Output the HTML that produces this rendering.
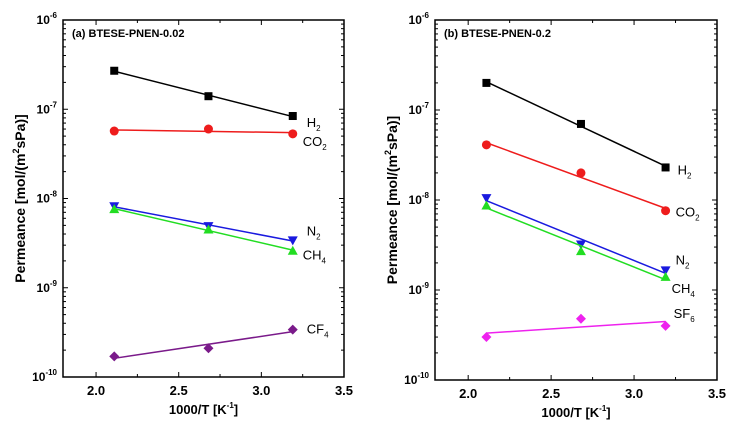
<!DOCTYPE html>
<html><head><meta charset="utf-8"><style>
body{margin:0;background:#fff;}
svg{display:block;font-family:"Liberation Sans",Arial,sans-serif;}
</style></head><body>
<svg id="chart" width="740" height="428" viewBox="0 0 740 428"></svg>
<script>
const xValues = [2.11, 2.68, 3.19];
const gasesA = ["H2","CO2","N2","CH4","CF4"];
const h2A = [2.7e-7, 1.4e-7, 8.4e-8];
const co2A = [5.7e-8, 6.0e-8, 5.3e-8];
const n2A = [8.2e-9, 4.9e-9, 3.4e-9];
const ch4A = [7.6e-9, 4.5e-9, 2.6e-9];
const cf4A = [1.7e-10, 2.1e-10, 3.4e-10];
const gasesB = ["H2","CO2","N2","CH4","SF6"];
const h2B = [2.0e-7, 7.0e-8, 2.3e-8];
const co2B = [4.1e-8, 2.0e-8, 7.6e-9];
const n2B = [1.05e-8, 3.2e-9, 1.65e-9];
const ch4B = [8.7e-9, 2.7e-9, 1.4e-9];
const sf6B = [3.0e-10, 4.8e-10, 4.0e-10];
const xTicks = [2.0, 2.5, 3.0, 3.5];
const xTickLabels = ["2.0","2.5","3.0","3.5"];
const yExps = [-10,-9,-8,-7,-6];

const NS="http://www.w3.org/2000/svg";
const svg=document.getElementById('chart');
function mk(tag,attrs,parent){const e=document.createElementNS(NS,tag);for(const k in attrs)e.setAttribute(k,attrs[k]);(parent||svg).appendChild(e);return e;}

function marker(g,type,cx,cy,color){
  let e;
  if(type==='square'){e=mk('rect',{x:cx-4,y:cy-4,width:8,height:8,fill:color},g);}
  else if(type==='circle'){e=mk('circle',{cx:cx,cy:cy,r:4.5,fill:color},g);}
  else if(type==='down'){e=mk('polygon',{points:`${cx-5},${cy-4} ${cx+5},${cy-4} ${cx},${cy+5}`,fill:color},g);}
  else if(type==='up'){e=mk('polygon',{points:`${cx-5},${cy+4} ${cx+5},${cy+4} ${cx},${cy-5}`,fill:color},g);}
  else {e=mk('polygon',{points:`${cx},${cy-5} ${cx+5},${cy} ${cx},${cy+5} ${cx-5},${cy}`,fill:color},g);}
  return e;
}

function panel(id,L,R,T,B,title,series){
  const g=mk('g',{});
  
  
  const xs=v=>L+(v-1.8)/(3.5-1.8)*(R-L);
  const ys=v=>B-(Math.log10(v)+10)/4*(B-T);
  xTicks.forEach((t,i)=>{
    const x=xs(t);
    if(t<3.5){mk('line',{x1:x,y1:B,x2:x,y2:B-5,stroke:'#000','stroke-width':1},g);mk('line',{x1:x,y1:T,x2:x,y2:T+5,stroke:'#000','stroke-width':1},g);}
    const lbl=mk('text',{x:x,y:B+18,'text-anchor':'middle','font-size':13,'font-weight':'bold'},g);
    lbl.textContent=xTickLabels[i];
    
    
    if(t<3.5){const m=xs(t+0.25);mk('line',{x1:m,y1:B,x2:m,y2:B-3,stroke:'#000'},g);mk('line',{x1:m,y1:T,x2:m,y2:T+3,stroke:'#000'},g);}
  });
  yExps.forEach(e=>{
    const y=ys(Math.pow(10,e));
    mk('line',{x1:L,y1:y,x2:L+5,y2:y,stroke:'#000'},g);mk('line',{x1:R,y1:y,x2:R-5,y2:y,stroke:'#000'},g);
    const t=mk('text',{x:L-6,y:y+4,'text-anchor':'end','font-size':12,'font-weight':'bold'},g);
    
    
    t.innerHTML='10<tspan dy="-6" font-size="8">'+e+'</tspan>';
    if(e<-6)for(let k=2;k<10;k++){const yy=ys(k*Math.pow(10,e));mk('line',{x1:L,y1:yy,x2:L+3,y2:yy,stroke:'#000'},g);mk('line',{x1:R,y1:yy,x2:R-3,y2:yy,stroke:'#000'},g);}
  });
  const fr=mk('rect',{x:L,y:T,width:R-L,height:B-T,fill:'none',stroke:'#000','stroke-width':1.5},g);
  
  
  const tt=mk('text',{x:L+9,y:T+17,'font-size':11,'font-weight':'bold'},g);
  tt.textContent=title;
  
  
  const yl=mk('text',{x:0,y:0,transform:`translate(${L-38},${(T+B)/2}) rotate(-90)`,'text-anchor':'middle','font-size':14,'font-weight':'bold'},g);
  yl.innerHTML='Permeance [mol/(m<tspan dy="-6" font-size="9">2</tspan><tspan dy="6">sPa)]</tspan>';
  
  
  const xl=mk('text',{x:(L+R)/2,y:B+37,'text-anchor':'middle','font-size':13,'font-weight':'bold'},g);
  xl.innerHTML='1000/T  [K<tspan dy="-6" font-size="8">-1</tspan><tspan dy="6">]</tspan>';
  
  
  series.forEach(s=>{
    const n=xValues.length;let sx=0,sy=0,sxx=0,sxy=0;
    xValues.forEach((x,i)=>{const y=Math.log10(s.v[i]);sx+=x;sy+=y;sxx+=x*x;sxy+=x*y;});
    const b=(n*sxy-sx*sy)/(n*sxx-sx*sx),a=(sy-b*sx)/n;
    const x0=xValues[0],x1=xValues[n-1];
    const ln=mk('line',{x1:xs(x0),y1:ys(Math.pow(10,a+b*x0)),x2:xs(x1),y2:ys(Math.pow(10,a+b*x1)),stroke:s.c,'stroke-width':1.5},g);
    
    
    xValues.forEach((x,i)=>{
      const m=marker(g,s.m,xs(x),ys(s.v[i]),s.c);
      
      
    });
    const lab=mk('text',{x:xs(x1)+s.dx,y:ys(s.v[n-1])+s.dy,'font-size':13},g);
    lab.innerHTML=s.n.replace(/(\d)$/,'<tspan dy="4" font-size="8">$1</tspan>');
    
    
  });
}
panel('panel-a',63,344,20,377,'(a) BTESE-PNEN-0.02',[
  {n:gasesA[0],v:h2A,c:'#000',m:'square',dx:14,dy:11},
  {n:gasesA[1],v:co2A,c:'#ee1c1c',m:'circle',dx:10,dy:12},
  {n:gasesA[2],v:n2A,c:'#1a1adf',m:'down',dx:14,dy:-5},
  {n:gasesA[3],v:ch4A,c:'#22dd22',m:'up',dx:10,dy:9},
  {n:gasesA[4],v:cf4A,c:'#7a1a8a',m:'diamond',dx:14,dy:4}]);
panel('panel-b',435,717,20,380,'(b) BTESE-PNEN-0.2',[
  {n:gasesB[0],v:h2B,c:'#000',m:'square',dx:12,dy:7},
  {n:gasesB[1],v:co2B,c:'#ee1c1c',m:'circle',dx:10,dy:6},
  {n:gasesB[2],v:n2B,c:'#1a1adf',m:'down',dx:10,dy:-6},
  {n:gasesB[3],v:ch4B,c:'#22dd22',m:'up',dx:6,dy:16},
  {n:gasesB[4],v:sf6B,c:'#ee22ee',m:'diamond',dx:8,dy:-8}]);
</script>
</body></html>
